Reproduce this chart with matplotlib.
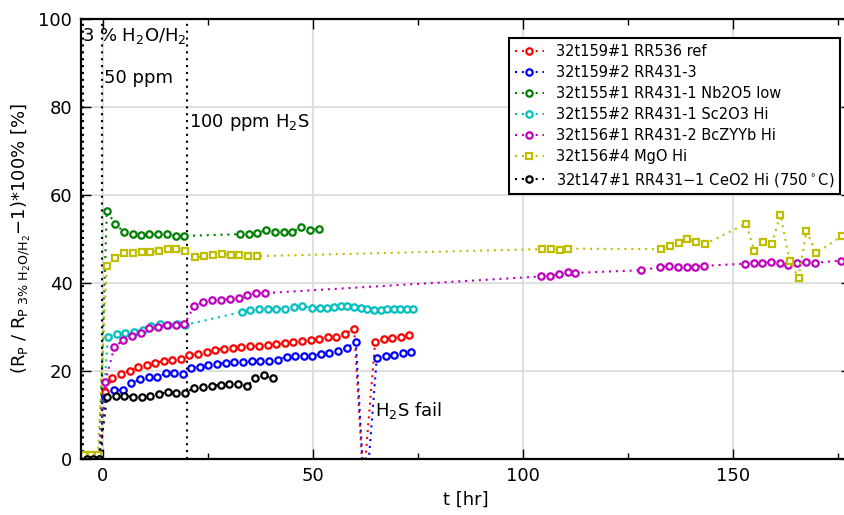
import matplotlib
matplotlib.use("Agg")
import matplotlib.pyplot as plt
from matplotlib.ticker import AutoMinorLocator

# event times (vertical dotted markers)
event_t = [-4.7, -0.3, 20.1]

pre_t = [-3.8, -2.3, -0.9]
pre_v = [0.0, 0.0, 0.0]

t_red = pre_t + [0.4, 2.2, 4.4, 6.4, 8.4, 10.4, 12.5, 14.5, 16.5, 18.6, 20.6, 22.6, 24.7, 26.7,
                 28.8, 30.9, 32.9, 35.0, 37.1, 39.2, 41.2, 43.3, 45.3, 47.4, 49.5, 51.5, 53.5,
                 55.5, 57.7, 59.8, 62.0, 64.8, 66.8, 68.9, 70.9, 72.9]
v_red = pre_v + [15.2, 18.3, 19.3, 20.1, 20.9, 21.4, 21.9, 22.2, 22.5, 22.8, 23.6, 23.8, 24.4, 24.8,
                 25.1, 25.3, 25.5, 25.6, 25.7, 25.8, 26.1, 26.3, 26.7, 26.9, 27.0, 27.3, 27.7,
                 27.8, 28.5, 29.6, -5.5, 26.5, 27.2, 27.6, 27.8, 28.2]

t_blue = pre_t + [0.4, 2.6, 4.7, 6.7, 8.8, 10.9, 12.9, 15.0, 17.0, 19.0, 21.0, 23.0, 25.1, 27.1,
                  29.2, 31.3, 33.3, 35.4, 37.5, 39.5, 41.6, 43.7, 45.8, 47.8, 49.8, 51.8, 53.8,
                  55.9, 58.0, 60.2, 62.4, 65.2, 67.3, 69.4, 71.4, 73.4]
v_blue = pre_v + [13.8, 15.7, 15.7, 17.2, 18.1, 18.6, 18.6, 19.5, 19.6, 19.3, 20.7, 21.0, 21.4, 21.7,
                  21.8, 22.0, 22.0, 22.2, 22.3, 22.3, 22.6, 23.2, 23.5, 23.5, 23.5, 23.8, 24.1,
                  24.5, 25.2, 26.7, -11.0, 23.0, 23.4, 23.6, 24.1, 24.4]

t_green = pre_t + [0.9, 2.9, 5.0, 7.1, 9.1, 11.0, 13.2, 15.2, 17.3, 19.4, 32.6, 34.7, 36.7, 38.8,
                   40.9, 43.0, 45.1, 47.1, 49.3, 51.4]
v_green = pre_v + [56.4, 53.4, 51.6, 51.1, 50.9, 51.1, 51.1, 51.1, 50.7, 50.7, 51.1, 51.2, 51.4, 52.0,
                   51.7, 51.7, 51.6, 52.7, 52.1, 52.3]

t_cyan = pre_t + [1.2, 3.3, 5.3, 7.45, 9.5, 11.5, 13.6, 15.5, 17.6, 19.6, 33.0, 35.1, 37.1, 39.3,
                  41.3, 43.4, 45.5, 47.5, 49.7, 51.7, 53.4, 55.0, 56.6, 58.2, 59.8, 61.4, 62.9,
                  64.5, 66.1, 67.7, 69.2, 70.7, 72.3, 73.9]
v_cyan = pre_v + [27.8, 28.5, 28.7, 28.9, 29.4, 30.3, 30.6, 30.5, 30.6, 30.5, 33.4, 33.9, 34.0, 34.0,
                  34.2, 34.2, 34.6, 34.8, 34.3, 34.3, 34.4, 34.5, 34.8, 34.7, 34.6, 34.4, 34.1,
                  33.9, 33.9, 34.1, 34.2, 34.2, 34.2, 34.0]

t_mag = pre_t + [0.55, 2.7, 4.8, 6.9, 9.0, 10.95, 13.0, 15.2, 17.3, 19.4, 21.7, 23.9, 26.0, 28.1,
                 30.2, 32.3, 34.4, 36.4, 38.6, 104.4, 106.5, 108.6, 110.6, 112.5, 128.0, 132.7,
                 134.8, 136.9, 139.0, 141.0, 143.1, 152.9, 154.9, 157.0, 159.0, 161.1, 163.2,
                 165.3, 167.5, 169.5, 175.7]
v_mag = pre_v + [17.6, 25.4, 27.0, 27.9, 28.6, 29.7, 30.1, 30.5, 30.5, 30.6, 34.8, 35.7, 36.2, 36.2,
                 36.4, 36.7, 37.3, 37.7, 37.7, 41.5, 41.7, 42.0, 42.4, 42.3, 42.9, 43.6,
                 43.8, 43.7, 43.6, 43.7, 43.9, 44.4, 44.6, 44.5, 44.8, 44.6, 44.2,
                 44.5, 44.8, 44.6, 45.1]

t_yel = [-4.5, -2.8, -1.2, 0.9, 2.9, 5.0, 7.1, 9.2, 11.2, 13.3, 15.4, 17.5, 19.6, 21.9, 24.1, 26.3,
         28.3, 30.5, 32.5, 34.6, 36.7, 104.6, 106.7, 108.7, 110.8, 132.9, 135.0, 137.1, 139.1,
         141.2, 143.3, 153.1, 155.1, 157.1, 159.2, 161.3, 163.5, 165.6, 167.5, 169.8, 175.9]
v_yel = [0.8, 0.8, 0.8, 43.9, 45.6, 46.75, 46.9, 47.0, 47.0, 47.3, 47.7, 47.8, 47.35, 45.8, 46.1, 46.4,
         46.6, 46.4, 46.4, 46.1, 46.1, 47.7, 47.7, 47.6, 47.8, 47.7, 48.3, 49.2, 50.0,
         49.4, 48.8, 53.5, 47.3, 49.3, 48.9, 55.5, 45.0, 41.2, 51.9, 46.75, 50.7]

t_blk = pre_t + [1.0, 3.1, 5.1, 7.1, 9.2, 11.3, 13.3, 15.4, 17.5, 19.6, 21.7, 23.9, 25.9, 28.0,
                 30.1, 32.1, 34.2, 36.3, 38.4, 40.5]
v_blk = pre_v + [14.2, 14.3, 14.3, 14.2, 14.2, 14.4, 14.8, 15.2, 14.9, 15.1, 16.1, 16.4, 16.6, 16.9,
                 17.0, 17.0, 16.6, 18.3, 19.0, 18.3]

series = [
    (t_red, v_red, "r", "o", "32t159#1 RR536 ref"),
    (t_blue, v_blue, "b", "o", "32t159#2 RR431-3"),
    (t_green, v_green, "g", "o", "32t155#1 RR431-1 Nb2O5 low"),
    (t_cyan, v_cyan, "c", "o", "32t155#2 RR431-1 Sc2O3 Hi"),
    (t_mag, v_mag, "m", "o", "32t156#1 RR431-2 BcZYYb Hi"),
    (t_yel, v_yel, "y", "s", "32t156#4 MgO Hi"),
    (t_blk, v_blk, "k", "o", r"32t147#1 RR431$-$1 CeO2 Hi (750$^\circ$C)"),
]

DOTS = (1, 2.3)

fig = plt.figure(figsize=(8.44, 5.15), dpi=100)
ax = fig.add_axes([80.7 / 844, 56 / 515, (850.6 - 80.7) / 844, 440 / 515])

ax.grid(True, color="#e0e0e0", lw=1.5, ls="-")
ax.set_axisbelow(True)

for x in event_t:
    ax.axvline(x, color="k", lw=1.5, dashes=DOTS)

for t, v, c, m, lab in series:
    ax.plot(t, v, lw=1.5, dashes=DOTS, color=c, marker=m, ms=4.6, mfc="w", mec=c,
            mew=1.6, label=lab)

ax.text(-5.0, 98.5, "3 % H$_2$O/H$_2$", fontsize=13, va="top")
ax.text(0.3, 86.5, "50 ppm", fontsize=13, va="center")
ax.text(20.6, 76.5, "100 ppm H$_2$S", fontsize=13, va="center")
ax.text(64.8, 11.0, "H$_2$S fail", fontsize=13, va="center")

ax.set_xlim(-5.3, 178)
ax.set_ylim(0, 100)
ax.set_xticks([0, 50, 100, 150])
ax.set_yticks([0, 20, 40, 60, 80, 100])
ax.xaxis.set_minor_locator(AutoMinorLocator(2))
ax.tick_params(which="both", direction="in", top=True, right=True, labelsize=13, pad=6)
ax.tick_params(which="major", length=7, width=1)
ax.tick_params(which="minor", length=4, width=1)
for s in ax.spines.values():
    s.set_linewidth(1.6)

ax.set_xlabel("t [hr]", fontsize=13)
ax.set_ylabel(r"(R$_\mathrm{P}$ / R$_\mathrm{P\ 3\%\ H_2O/H_2}$$-$1)*100% [%]", fontsize=13)

leg = ax.legend(loc="upper left", bbox_to_anchor=(509 / 844, 1 - 38 / 515),
                bbox_transform=fig.transFigure, numpoints=1, fontsize=10.5,
                labelspacing=0.42, fancybox=False, framealpha=1, borderaxespad=0)
leg.get_frame().set_edgecolor("k")
leg.get_frame().set_linewidth(1.5)

fig.savefig("out.png", dpi=100)
